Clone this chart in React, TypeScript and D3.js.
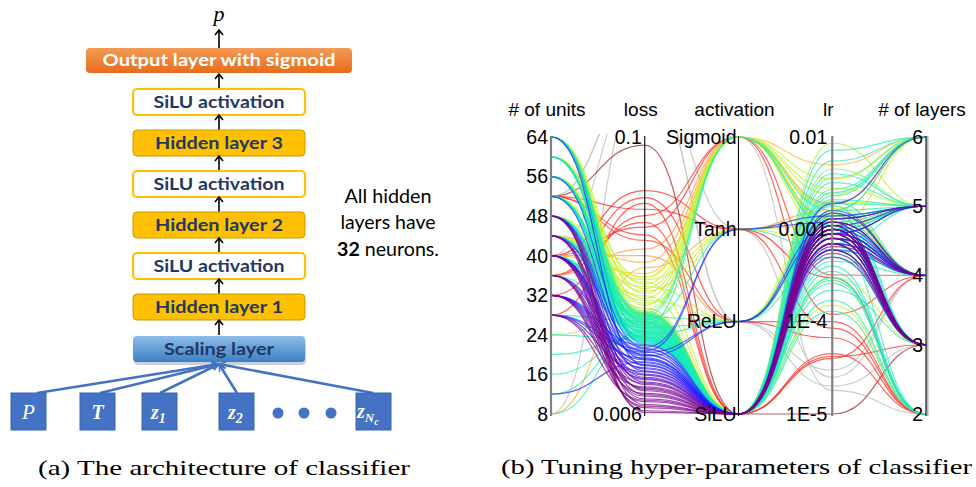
import React from "react";
import * as d3 from "d3";

const S = "SiLU", R = "ReLU", T = "Tanh", G = "Sigmoid";

// axes of the parallel-coordinate plot
const dims = ["# of units", "loss", "activation", "lr", "# of layers"];
const unitTicks = [8, 16, 24, 32, 40, 48, 56, 64];
const lossTicks = [0.1, 0.006];
const lossTickLabels = ["0.1", "0.006"];
const activationLevels = ["Sigmoid", "Tanh", "ReLU", "SiLU"];
const lrTicks = [0.01, 0.001, 0.0001, 0.00001];
const lrTickLabels = ["0.01", "0.001", "1E-4", "1E-5"];
const layerTicks = [2, 3, 4, 5, 6];

// trials (purple, blue, cyan, yellow-green, orange, red, brown, grey)
const trialUnits = [
  48, 44, 40, 36, 48, 32, 28, 40, 36, 44, 32, 48, 40, 36, 28, 44, 32, 48, 40, 36, 44, 32, 40, 28,
  48, 40, 32, 64, 36, 40, 12, 32, 48, 28, 40, 52, 36, 32, 40, 44, 28, 48, 56, 32, 44, 64,
  52, 56, 64, 24, 44, 60, 48, 20, 52, 44, 16, 56, 40, 64, 12, 48, 52, 8, 60, 44, 56, 36, 64, 52, 48, 40, 56, 44, 64, 28,
  52, 60, 48, 56, 52, 56, 64, 44, 48, 60, 52, 56, 64, 40, 56, 24, 60,
  64, 56, 60, 48, 52, 44, 64, 56, 40, 60, 52, 48, 64, 44, 56,
  64, 44, 60, 64, 48, 56, 44, 64, 52, 60, 44, 64, 56, 48, 60, 44,
  40, 8, 44, 40, 36,
  52, 52, 40, 36, 32, 52, 28, 36, 40,
  52,
  52, 8, 40, 52,
];
const trialLoss = [
  0.0061, 0.0062, 0.0064, 0.0065, 0.0066, 0.0068, 0.0069, 0.007, 0.0072, 0.0073, 0.0074, 0.0076, 0.0077, 0.0078, 0.0079, 0.0081,
  0.0082, 0.0083, 0.0085, 0.0086, 0.0087, 0.0089, 0.009, 0.0092,
  0.0093, 0.0095, 0.0096, 0.0098, 0.0099, 0.0101, 0.0102, 0.0104, 0.0105, 0.0106, 0.0108, 0.0109, 0.011, 0.0112, 0.0113, 0.0114,
  0.0116, 0.0117, 0.0118, 0.012, 0.0121, 0.0122,
  0.0124, 0.0124, 0.0126, 0.0127, 0.0127, 0.0129, 0.013, 0.0131, 0.0131, 0.0133, 0.0134, 0.0135, 0.0135, 0.0137, 0.0138, 0.0139,
  0.0139, 0.0141, 0.0142, 0.0143, 0.0144, 0.0144, 0.0146, 0.0147, 0.0148, 0.0148, 0.015, 0.0151, 0.0152, 0.0153, 0.0153, 0.0155,
  0.0156, 0.0157, 0.0158, 0.0158, 0.016, 0.0161, 0.0162, 0.0163, 0.0164, 0.0165, 0.0166, 0.0167, 0.0168, 0.0169, 0.017,
  0.0125, 0.0128, 0.013, 0.0132, 0.0136, 0.0138, 0.014, 0.0145, 0.0149, 0.0152, 0.0154, 0.0159, 0.0162, 0.0165, 0.0168,
  0.0172, 0.0176, 0.0181, 0.0185, 0.019, 0.0194, 0.0199, 0.0204, 0.0209, 0.0214, 0.0219, 0.0224, 0.0229, 0.0234, 0.0238, 0.0242,
  0.025, 0.0265, 0.028, 0.03, 0.032,
  0.035, 0.037, 0.04, 0.042, 0.045, 0.048, 0.051, 0.054, 0.058,
  0.092,
  0.18, 0.18, 0.18, 0.18,
];
const trialActivation = [
  S, S, S, S, S, S, S, S, S, S, S, S, S, S, S, S, S, S, S, S, S, S, S, S,
  S, S, S, S, S, S, S, S, S, S, R, S, S, R, S, T, S, S, T, S, S, S,
  S, S, S, S, S, S, S, S, S, S, S, S, R, S, S, S, S, S, S, S, R, S, S, S, S, G, S, S, S, S,
  S, S, T, S, S, S, S, R, S, S, S, S, S, G, S, S, S,
  S, S, S, S, S, S, S, S, S, S, S, S, G, S, S,
  G, S, G, T, R, G, S, G, T, G, R, G, S, T, G, G,
  G, T, G, R, G,
  R, S, G, S, G, T, S, R, T,
  S,
  G, T, R, R,
];
const trialLr = [
  0.0009, 0.0011, 0.0008, 0.001, 0.0007, 0.0012, 0.0009, 0.0006, 0.0013, 0.0008, 0.00065, 0.001, 0.0015, 0.0007, 0.0011, 0.0009,
  0.00055, 0.0012, 0.001, 0.0008, 0.0007, 0.0011, 0.0009, 0.001,
  0.001, 0.0007, 0.0012, 0.0009, 0.0016, 0.0008, 0.001, 0.0006, 0.0013, 0.0009, 0.0011, 0.0008, 0.0019, 0.0009, 0.0005, 0.0012,
  0.001, 0.0007, 0.0014, 0.0011, 0.0006, 0.0009,
  0.0009, 0.0013, 0.0007, 0.0018, 0.0004, 0.001, 0.0025, 0.0008, 0.00035, 0.0012, 0.0006, 0.004, 0.0008, 0.0015, 0.0003, 0.0072,
  0.001, 0.002, 0.00028, 0.0011, 0.0013, 0.00022, 0.0055, 0.0009, 0.00017, 0.0016, 0.0032, 0.00045, 0.0012, 0.00013, 0.0027, 0.001,
  0.0006, 0.0021, 0.0011, 0.0008, 0.0014, 0.0005, 0.0019, 0.0009, 0.00026, 0.0016, 0.0007, 0.0011, 0.0045, 0.0006, 0.0009,
  0.0011, 0.0008, 0.0014, 0.001, 0.0006, 0.0013, 0.0009, 0.0023, 0.001, 0.0007, 0.0012, 0.0015, 0.0011, 0.0008, 0.0036,
  0.0013, 0.0086, 0.0018, 0.0011, 0.0015, 0.0024, 0.0003, 0.0009, 0.0014, 0.0035, 0.002, 0.0012, 0.00015, 0.0008, 0.0028, 0.0017,
  0.005, 0.0016, 0.0013, 0.0009, 0.0019,
  0.0001, 0.000042, 0.00032, 0.000045, 0.00012, 0.000085, 0.00004, 0.000067, 0.0003,
  0.00001,
  0.000018, 0.000025, 0.00003, 0.00002,
];
const trialLayers = [
  3, 3, 4, 3, 3, 4, 3, 3, 5, 3, 4, 3, 4, 3, 5, 3, 3, 4, 3, 4, 3, 3, 4, 3,
  3, 4, 3, 5, 4, 3, 4, 3, 5, 4, 4, 3, 6, 5, 3, 4, 3, 4, 5, 3, 4, 3,
  3, 4, 5, 3, 2, 5, 6, 3, 2, 4, 3, 5, 4, 3, 2, 6, 5, 4, 2, 3, 5, 3, 6, 4, 2, 5, 5, 4, 3, 2,
  6, 5, 4, 5, 4, 3, 5, 3, 5, 4, 2, 6, 3, 5, 5, 3, 5,
  3, 4, 5, 3, 4, 5, 3, 6, 4, 2, 5, 4, 5, 3, 6,
  5, 5, 4, 6, 4, 6, 3, 5, 4, 6, 5, 3, 2, 4, 5, 4,
  6, 6, 5, 4, 6,
  2, 3, 4, 2, 4, 2, 4, 2, 2,
  3,
  2, 4, 4, 3,
];

// colour of a trial follows its loss (position along the loss axis)
const colorStops = [0, 0.1, 0.15, 0.18, 0.245, 0.258, 0.36, 0.372, 0.5, 0.505, 0.6, 0.615, 0.85, 1];
const colorRange = [
  "#800080", "#7808a0", "#4010e0", "#1515ff", "#2840ff", "#10e8c0", "#30f0a0",
  "#b0f030", "#d0f020", "#ffb030", "#ff8c30", "#ff3020", "#ff1010", "#802020",
];

const navy = "#1f3864";
const blue = "#4472c4";

const xDim = d3.scalePoint<string>().domain(dims).range([551, 926]);
const yUnits = d3.scaleLinear().domain([8, 64]).range([414, 137]);
const yLoss = d3.scaleLog().domain([0.006, 0.1]).range([414, 137]);
const yAct = d3.scalePoint<string>().domain(activationLevels).range([137, 414]);
const yLr = d3.scaleLog().domain([1e-5, 1e-2]).range([414, 137]);
const yLayers = d3.scaleLinear().domain([2, 6]).range([414, 137]);
const lossT = d3.scaleLog().domain([0.006, 0.1]).range([0, 1]);
const lossColor = d3.scaleLinear<string>().domain(colorStops).range(colorRange).interpolate(d3.interpolateRgb);

const curve = d3.line<[number, number]>().curve(d3.curveBumpX);

function VArrow({ x, y1, y2 }: { x: number; y1: number; y2: number }) {
  return (
    <g stroke="#000" strokeWidth={1.6} fill="none">
      <line x1={x} y1={y1} x2={x} y2={y2} />
      <path d={`M${x - 4},${y2 + 5} L${x},${y2} L${x + 4},${y2 + 5}`} />
    </g>
  );
}

function Layer({ y, label, kind, len }: { y: number; label: string; kind: string; len: number }) {
  const x = 133, w = 172, h = 26;
  const fill = kind === "act" ? "#fff" : "#ffc000";
  const stroke = kind === "act" ? "#ffc000" : "#c99a00";
  return (
    <g>
      <rect x={x} y={y} width={w} height={h} rx={4} fill={fill} stroke={stroke} strokeWidth={kind === "act" ? 2.2 : 1} />
      <text x={x + w / 2} y={y + h / 2 + 6} textAnchor="middle" fill={navy} fontFamily="Lato, 'Open Sans', sans-serif"
        fontWeight="bold" fontSize={17} textLength={len} lengthAdjust="spacingAndGlyphs">{label}</text>
    </g>
  );
}

function Architecture() {
  const cx = 219;
  const layers = [
    { y: 89, label: "SiLU activation", kind: "act", len: 131 },
    { y: 130, label: "Hidden layer 3", kind: "hid", len: 128 },
    { y: 171, label: "SiLU activation", kind: "act", len: 131 },
    { y: 212, label: "Hidden layer 2", kind: "hid", len: 128 },
    { y: 253, label: "SiLU activation", kind: "act", len: 131 },
    { y: 294, label: "Hidden layer 1", kind: "hid", len: 128 },
  ];
  const inputs = [
    { x: 11, lx: 37 },
    { x: 80, lx: 100 },
    { x: 142, lx: 160 },
    { x: 219, lx: 237 },
    { x: 356, lx: 373 },
  ];
  const serif = "'Liberation Serif', 'DejaVu Serif', serif";
  return (
    <g>
      <defs>
        <linearGradient id="outGrad" x1="0" y1="0" x2="0" y2="1">
          <stop offset="0" stopColor="#f59a55" />
          <stop offset="1" stopColor="#e66c1c" />
        </linearGradient>
        <linearGradient id="scaleGrad" x1="0" y1="0" x2="0" y2="1">
          <stop offset="0" stopColor="#8dbde8" />
          <stop offset="1" stopColor="#3d80c4" />
        </linearGradient>
        <marker id="blueHead" viewBox="0 0 10 10" refX={9} refY={5} markerWidth={3.4} markerHeight={3.4} orient="auto">
          <path d="M1,1 L9,5 L1,9" fill="none" stroke={blue} strokeWidth={1.6} />
        </marker>
      </defs>
      <text x={cx} y={21} textAnchor="middle" fontFamily={serif} fontStyle="italic" fontSize={22}>p</text>
      <VArrow x={cx} y1={48} y2={30} />
      <rect x={86} y={48} width={266} height={25} rx={4} fill="url(#outGrad)" />
      <text x={cx} y={66} textAnchor="middle" fill="#fff" fontFamily="Lato, sans-serif" fontWeight="bold" fontSize={17}
        textLength={233} lengthAdjust="spacingAndGlyphs">Output layer with sigmoid</text>
      <VArrow x={cx} y1={89} y2={74} />
      {layers.map((l, i) => (
        <g key={i}>
          <Layer {...l} />
          <VArrow x={cx} y1={l.y + 41} y2={l.y + 26} />
        </g>
      ))}
      <rect x={133} y={337} width={172} height={26} rx={4} fill="#9aa4b0" opacity={0.5} transform="translate(1,2)" />
      <rect x={133} y={336} width={172} height={26} rx={4} fill="url(#scaleGrad)" />
      <text x={cx} y={355} textAnchor="middle" fill={navy} fontFamily="Lato, sans-serif" fontWeight="bold" fontSize={17}
        textLength={110} lengthAdjust="spacingAndGlyphs">Scaling layer</text>
      {inputs.map((d, i) => (
        <line key={i} x1={d.lx} y1={393} x2={cx} y2={364} stroke={blue} strokeWidth={2.6} markerEnd="url(#blueHead)" />
      ))}
      {inputs.map((d, i) => (
        <rect key={i} x={d.x} y={393} width={35} height={37} fill={blue} stroke="#3a64b0" strokeWidth={1} />
      ))}
      <text x={28.5} y={419} textAnchor="middle" fill="#fff" fontFamily={serif} fontStyle="italic" fontSize={21}>P</text>
      <text x={97.5} y={419} textAnchor="middle" fill="#fff" fontFamily={serif} fontStyle="italic" fontWeight="bold" fontSize={20}>T</text>
      <text x={151} y={419} fill="#fff" fontFamily={serif} fontStyle="italic" fontWeight="bold" fontSize={20}>
        z<tspan fontSize={14} dy={4}>1</tspan>
      </text>
      <text x={228} y={419} fill="#fff" fontFamily={serif} fontStyle="italic" fontWeight="bold" fontSize={20}>
        z<tspan fontSize={14} dy={4}>2</tspan>
      </text>
      <text x={357} y={418} fill="#fff" fontFamily={serif} fontStyle="italic" fontWeight="bold" fontSize={20}>
        z<tspan fontSize={13} dy={4}>N</tspan><tspan fontSize={10} dy={3}>c</tspan>
      </text>
      {[278, 304, 331].map((x) => (
        <circle key={x} cx={x} cy={413} r={5.5} fill={blue} />
      ))}
      <g fontFamily="Lato, sans-serif" fontSize={19} textAnchor="middle" fill="#000">
        <text x={388} y={203} textLength={87} lengthAdjust="spacingAndGlyphs">All hidden</text>
        <text x={388} y={229} textLength={95} lengthAdjust="spacingAndGlyphs">layers have</text>
        <text x={388} y={256} textLength={102} lengthAdjust="spacingAndGlyphs">
          <tspan fontWeight="bold">32</tspan> neurons.
        </text>
      </g>
    </g>
  );
}

function Parallel() {
  const n = trialUnits.length;
  const trials = d3.range(n).map((i) => ({
    units: trialUnits[i],
    loss: trialLoss[i],
    act: trialActivation[i],
    lr: trialLr[i],
    layers: trialLayers[i],
  }));
  const order = trials.slice().sort((a, b) => d3.descending(a.loss, b.loss));
  const sans = "'Liberation Sans', Arial, sans-serif";
  const tick = (x: number, y: number, label: string, key: string) => (
    <text key={key} x={x} y={y} dy="0.35em" textAnchor="end" fontFamily={sans} fontSize={19.5} fill="#000">{label}</text>
  );
  return (
    <g>
      <defs>
        <clipPath id="plotClip">
          <rect x={551} y={134} width={376} height={283} />
        </clipPath>
      </defs>
      <g clipPath="url(#plotClip)" fill="none">
        {order.map((t, i) => {
          const pts: [number, number][] = [
            [xDim("# of units")!, yUnits(t.units)],
            [xDim("loss")!, yLoss(t.loss)],
            [xDim("activation")!, yAct(t.act)!],
            [xDim("lr")!, yLr(t.lr)],
            [xDim("# of layers")!, yLayers(t.layers)],
          ];
          const grey = t.loss > 0.1;
          return (
            <path key={i} d={curve(pts) || ""} stroke={grey ? "#c8c8c8" : lossColor(lossT(t.loss))}
              strokeOpacity={grey ? 0.9 : 0.7} strokeWidth={1.2} />
          );
        })}
      </g>
      <line x1={xDim("# of units")} x2={xDim("# of units")} y1={136} y2={416} stroke="#808080" strokeWidth={2.2} />
      <line x1={xDim("loss")} x2={xDim("loss")} y1={136} y2={416} stroke="#000" strokeWidth={1.1} />
      <line x1={xDim("activation")} x2={xDim("activation")} y1={136} y2={416} stroke="#000" strokeWidth={1.1} />
      <line x1={xDim("lr")} x2={xDim("lr")} y1={136} y2={416} stroke="#808080" strokeWidth={2.2} />
      <line x1={xDim("# of layers")! + 1.5} x2={xDim("# of layers")! + 1.5} y1={136} y2={416} stroke="#b0b0b0" strokeWidth={2} />
      <line x1={xDim("# of layers")} x2={xDim("# of layers")} y1={136} y2={416} stroke="#000" strokeWidth={1.1} />
      {dims.map((d) => (
        <text key={d} x={xDim(d)! - 4} y={116} textAnchor="middle" fontFamily={sans} fontSize={19} fill="#000">{d}</text>
      ))}
      {unitTicks.map((u) => tick(xDim("# of units")! - 3, yUnits(u), String(u), "u" + u))}
      {lossTicks.map((l, i) => tick(xDim("loss")! - 3, yLoss(l), lossTickLabels[i], "l" + i))}
      {activationLevels.map((a) => tick(xDim("activation")! - 2, yAct(a)!, a, "a" + a))}
      {lrTicks.map((l, i) => tick(xDim("lr")! - 5, yLr(l), lrTickLabels[i], "r" + i))}
      {layerTicks.map((l) => tick(xDim("# of layers")! - 3, yLayers(l), String(l), "n" + l))}
    </g>
  );
}

export default function App() {
  const serif = "'Liberation Serif', 'DejaVu Serif', serif";
  return (
    <svg width={976} height={487} style={{ position: "absolute", left: 0, top: 0, background: "#fff" }}>
      <Architecture />
      <Parallel />
      <text x={224} y={475} textAnchor="middle" fontFamily={serif} fontSize={21} textLength={372} lengthAdjust="spacingAndGlyphs">
        (a) The architecture of classifier
      </text>
      <text x={736.5} y={474} textAnchor="middle" fontFamily={serif} fontSize={21} textLength={471} lengthAdjust="spacingAndGlyphs">
        (b) Tuning hyper-parameters of classifier
      </text>
    </svg>
  );
}
